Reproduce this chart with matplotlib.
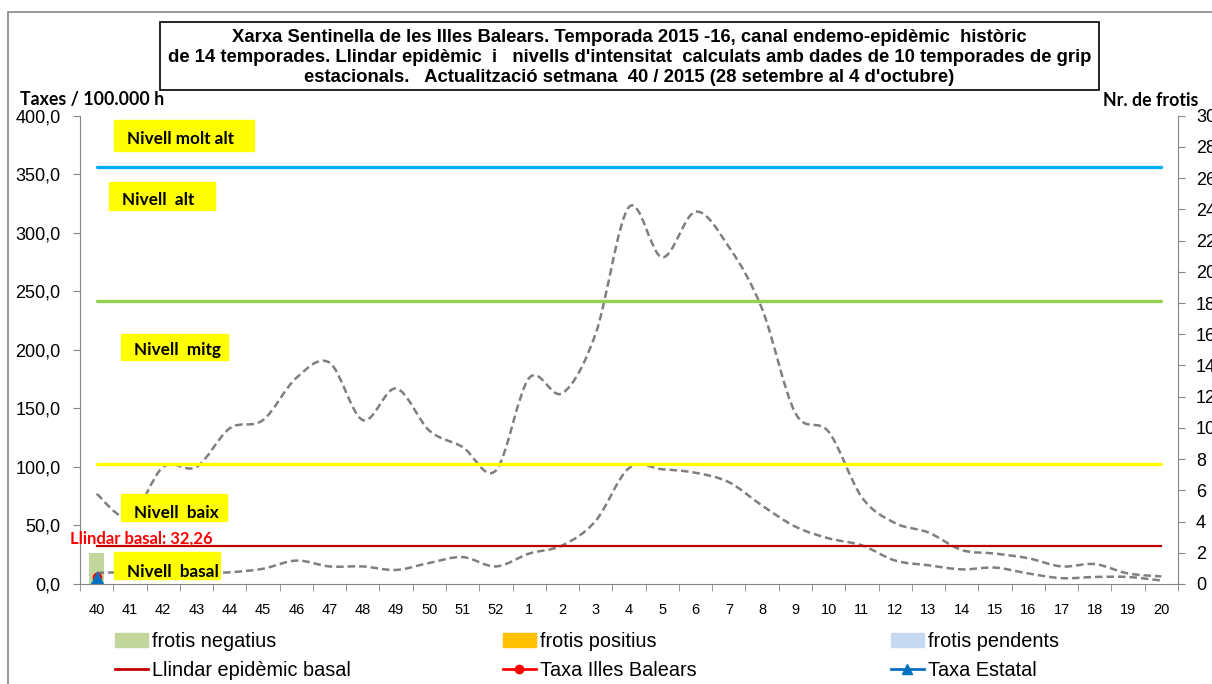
import numpy as np
import matplotlib
matplotlib.use("Agg")
import matplotlib.pyplot as plt
from matplotlib import font_manager
from matplotlib.path import Path
from matplotlib.patches import PathPatch, Rectangle, Patch
from matplotlib.lines import Line2D

# setmanes de la temporada
weeks = ['40', '41', '42', '43', '44', '45', '46', '47', '48', '49', '50', '51', '52',
         '1', '2', '3', '4', '5', '6', '7', '8', '9', '10', '11', '12', '13', '14',
         '15', '16', '17', '18', '19', '20']

# canal endemo-epidemic (taxes / 100.000 h)
canal_superior = [77, 57, 100, 100, 133, 140, 176, 189, 140, 167, 131, 117, 97,
                  176, 163, 214, 322, 279, 318, 288, 235, 146, 130, 74, 52, 44, 29,
                  26, 22, 15, 17, 9, 6.5]
canal_inferior = [9.5, 10, 9, 9, 10, 13, 20, 15, 15, 12, 18, 23, 15,
                  26, 33, 54, 99, 98, 95, 87, 67, 49, 39, 33, 20, 16, 12.5,
                  14, 9, 5, 6, 6, 3]

# llindars
nivell_molt_alt = 356.0
nivell_mitg_alt = 242.0
nivell_baix_mitg = 102.5
llindar_basal = 32.26

# frotis (eix secundari)
frotis_negatius = [2] + [0] * 32
frotis_positius = [0] * 33
frotis_pendents = [0] * 33

# taxes setmana 40
taxa_balears = [5.8]
taxa_estatal = [5.0]

W, H = 1212, 684
names = {f.name for f in font_manager.fontManager.ttflist}
narrow = 'Liberation Sans Narrow' if 'Liberation Sans Narrow' in names else 'Liberation Sans'
arial = 'Liberation Sans'
calibri = 'Lato' if 'Lato' in names else 'DejaVu Sans'


def fx(x):
    return x / W


def fy(y):
    return 1 - y / H


def smooth_path(xs, ys):
    pts = np.column_stack([xs, ys]).astype(float)
    n = len(pts)
    verts = [pts[0]]
    codes = [Path.MOVETO]
    for i in range(n - 1):
        p0 = pts[i - 1] if i > 0 else pts[i]
        p1 = pts[i]
        p2 = pts[i + 1]
        p3 = pts[i + 2] if i + 2 < n else pts[i + 1]
        verts += [p1 + (p2 - p0) / 6, p2 - (p3 - p1) / 6, p2]
        codes += [Path.CURVE4] * 3
    return Path(verts, codes)


fig = plt.figure(figsize=(W / 100, H / 100), dpi=100)

# marc del grafic
fig.patches.append(Rectangle((fx(8), fy(700)), fx(1240), fy(12) - fy(700),
                             transform=fig.transFigure, fill=False,
                             ec='#868686', lw=1.2, zorder=0))

ax = fig.add_axes([fx(80), fy(584), fx(1178 - 80), fy(115.7) - fy(584)])
ax2 = ax.twinx()
ax.set_zorder(2)
ax2.set_zorder(1)
ax.patch.set_visible(False)

x = np.arange(len(weeks))

# barres
neg = np.array(frotis_negatius)
pos = np.array(frotis_positius)
pen = np.array(frotis_pendents)
ax2.bar(x, neg, width=0.46, color='#C3D69B')
ax2.bar(x, pos, bottom=neg, width=0.46, color='#FFC000')
ax2.bar(x, pen, bottom=neg + pos, width=0.46, color='#C6D9F1')

# nivells
ax.plot(x, [nivell_molt_alt] * len(x), color='#00B0F0', lw=2.4, solid_capstyle='round')
ax.plot(x, [nivell_mitg_alt] * len(x), color='#92D050', lw=2.4, solid_capstyle='round')
ax.plot(x, [nivell_baix_mitg] * len(x), color='#FFFF00', lw=2.4, solid_capstyle='round')
ax.plot(x, [llindar_basal] * len(x), color='#C00000', lw=1.6)

# canal
for serie in (canal_superior, canal_inferior):
    ax.add_patch(PathPatch(smooth_path(x, serie), fill=False, ec='#7F7F7F',
                           lw=1.8, ls=(0, (3, 1.6)), capstyle='butt'))

ax.plot(x[:1], taxa_balears, color='#FF0000', marker='o', ms=6, lw=1.5)
ax.plot(x[:1], taxa_estatal, color='#0070C0', marker='^', ms=8, lw=1.5)

ax.set_xlim(-0.5, len(x) - 0.5)
ax.set_ylim(0, 400)
ax2.set_ylim(0, 30)
ax.set_yticks(np.arange(0, 401, 50))
ax.set_yticklabels([f"{v:.1f}".replace('.', ',') for v in np.arange(0, 401, 50)])
ax2.set_yticks(np.arange(0, 31, 2))
ax.set_xticks(x)
ax.set_xticklabels(weeks)
ax.set_xticks(np.arange(-0.5, len(x), 1), minor=True)
ax.tick_params(axis='x', which='major', length=0, pad=14, labelsize=10.5)
ax.tick_params(axis='x', which='minor', length=5, color='#868686', direction='out')
ax.tick_params(axis='y', length=5, color='#868686', pad=9, labelsize=13)
ax2.tick_params(axis='y', length=5, color='#868686', pad=8, labelsize=13)
for lab in ax.get_xticklabels() + ax.get_yticklabels() + ax2.get_yticklabels():
    lab.set_fontfamily(arial)
for a in (ax, ax2):
    a.spines['top'].set_visible(False)
    for s in ('left', 'right', 'bottom'):
        a.spines[s].set_color('#868686')
ax2.spines['left'].set_visible(False)
ax.spines['right'].set_visible(False)
ax2.spines['bottom'].set_visible(False)

# caixes de nivells
caixes = [("Nivell molt alt", 114, 120, 254, 151, 139),
          ("Nivell  alt", 109, 182, 215, 210, 200),
          ("Nivell  mitg", 121, 334, 228, 360, 350),
          ("Nivell  baix", 121, 494, 227, 521, 513),
          ("Nivell  basal", 114, 552, 220, 579, 572)]
for txt, x0, y0, x1, y1, yt in caixes:
    fig.patches.append(Rectangle((fx(x0), fy(y1)), fx(x1 - x0), fy(y0) - fy(y1),
                                 transform=fig.transFigure, color='#FFFF00', zorder=5))
    fig.text(fx(x0 + 13), fy(yt), txt, ha='left', va='center', fontsize=12.3,
             fontweight='bold', family=calibri, zorder=6)

fig.text(fx(70), fy(539), "Llindar basal: 32,26", color='#FF0000', fontsize=12,
         fontweight='bold', family=calibri, ha='left', va='center', zorder=6)
fig.text(fx(20), fy(99), "Taxes / 100.000 h", fontsize=12.8, fontweight='bold',
         family=calibri, ha='left', va='center')
fig.text(fx(1103), fy(100), "Nr. de frotis", fontsize=12.8, fontweight='bold',
         family=calibri, ha='left', va='center')

# titol
fig.patches.append(Rectangle((fx(160), fy(90)), fx(1099 - 160), fy(22) - fy(90),
                             transform=fig.transFigure, fc='white', ec='black',
                             lw=1.2, zorder=3))
titol = ["Xarxa Sentinella de les Illes Balears. Temporada 2015 -16, canal endemo-epidèmic  històric",
         "de 14 temporades. Llindar epidèmic  i   nivells d'intensitat  calculats amb dades de 10 temporades de grip",
         "estacionals.   Actualització setmana  40 / 2015 (28 setembre al 4 d'octubre)"]
for i, linia in enumerate(titol):
    fig.text(fx(629.5), fy(37 + i * 20), linia, ha='center', va='center',
             fontsize=13.3, fontweight='bold', family=narrow, zorder=4)

# llegenda
h_neg = Patch(color='#C3D69B', label='frotis negatius')
h_pos = Patch(color='#FFC000', label='frotis positius')
h_pen = Patch(color='#C6D9F1', label='frotis pendents')
h_ll = Line2D([], [], color='#C00000', lw=2, label='Llindar epidèmic basal')
h_bal = Line2D([], [], color='#FF0000', lw=2, marker='o', ms=6, label='Taxa Illes Balears')
h_est = Line2D([], [], color='#0070C0', lw=2, marker='^', ms=7, label='Taxa Estatal')
for hs, xl in (([h_neg, h_ll], 115), ([h_pos, h_bal], 503), ([h_pen, h_est], 891)):
    fig.legend(handles=hs, loc='upper left', bbox_to_anchor=(fx(xl), fy(632)),
               frameon=False, borderpad=0, borderaxespad=0, handlelength=1.65,
               handletextpad=0.2, labelspacing=0.52,
               prop={'family': arial, 'size': 14.3})

fig.savefig("out.png", dpi=100)
